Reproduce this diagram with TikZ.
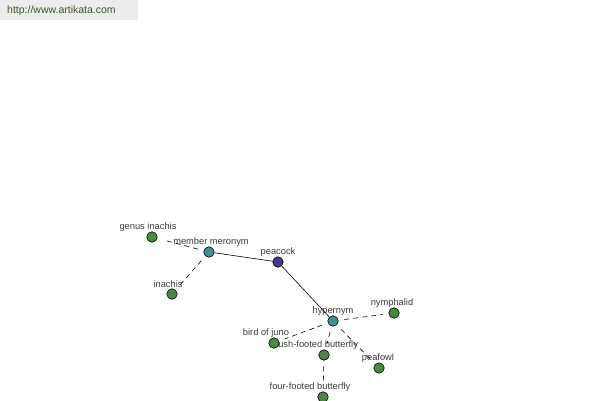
\documentclass[tikz,border=0pt]{standalone}
\usepackage{fontspec}
\setmainfont{Liberation Sans}
\begin{document}
\begin{tikzpicture}[x=1pt,y=-1pt,
  dot/.style={circle,draw=black,line width=0.6pt,minimum size=10.5pt,inner sep=0pt},
  gdot/.style={dot,fill=leafgreen},
  tdot/.style={dot,fill=tealc},
  ndot/.style={dot,fill=navyc},
  lbl/.style={font=\fontsize{9.3}{10}\selectfont,text=labelgray,inner sep=0pt},
  dline/.style={draw=black,line width=0.6pt,dash pattern=on 5pt off 4pt,shorten <=6pt,shorten >=6pt},
  sline/.style={draw=black,line width=0.6pt}]
\definecolor{leafgreen}{RGB}{74,138,64}
\definecolor{tealc}{RGB}{60,146,146}
\definecolor{navyc}{RGB}{60,60,140}
\definecolor{labelgray}{RGB}{60,60,60}
\definecolor{hdrgray}{RGB}{236,236,236}
\definecolor{hdrtext}{RGB}{60,90,40}
\useasboundingbox (0,0) rectangle (600,400);
\fill[white] (0,0) rectangle (600,400);
\node[fill=hdrgray,minimum width=138pt,minimum height=20pt,inner sep=0pt,anchor=north west] (hdr) at (0,0) {};
\node[font=\fontsize{10.5}{12}\selectfont,text=hdrtext,anchor=west,inner sep=0pt] (url) at (7,11) {http://www.artikata.com};
% labels
\node[lbl] (lgi) at (148,227.5) {genus inachis};
\node[lbl] (lmm) at (211,242.5) {member meronym};
\node[lbl] (lin) at (168,284.5) {inachis};
\node[lbl] (lpc) at (278,252.5) {peacock};
\node[lbl] (lhy) at (333,311.5) {hypernym};
\node[lbl] (lny) at (392,303.5) {nymphalid};
\node[lbl] (lbj) at (266,333.5) {bird of juno};
\node[lbl] (lbf) at (314,345.5) {brush-footed butterfly};
\node[lbl] (lpf) at (378,358.5) {peafowl};
\node[lbl] (lff) at (310,387.5) {four-footed butterfly};
% nodes
\node[gdot] (gi) at (152,237) {};
\node[tdot] (mm) at (209,252) {};
\node[gdot] (in) at (172,294) {};
\node[ndot] (pc) at (278,262) {};
\node[tdot] (hy) at (333,321) {};
\node[gdot] (ny) at (394,313) {};
\node[gdot] (bj) at (274,343) {};
\node[gdot] (bf) at (324,355) {};
\node[gdot] (pf) at (379,368) {};
\node[gdot] (ff) at (323,397) {};
% edges
\draw[sline] (mm) -- (pc);
\draw[sline] (pc) -- (hy);
\draw[dline] (mm) -- (gi);
\draw[dline] (mm) -- (in);
\draw[dline] (hy) -- (ny);
\draw[dline] (hy) -- (bj);
\draw[dline] (hy) -- (bf);
\draw[dline] (hy) -- (pf);
\draw[dline] (bf) -- (ff);
\end{tikzpicture}
\end{document}
